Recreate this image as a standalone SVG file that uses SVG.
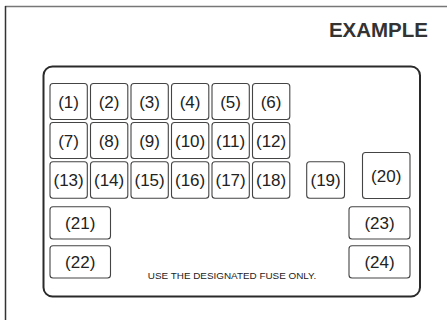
<svg xmlns="http://www.w3.org/2000/svg" width="447" height="320" viewBox="0 0 447 320">
<style>
.fuse rect{fill:#fff;stroke:#444;stroke-width:1.1}
.fuse text{font-family:"Liberation Sans",Arial,sans-serif;font-size:17px;fill:#222;text-anchor:middle}
.title{font-family:"Liberation Sans",Arial,sans-serif;font-size:20.5px;font-weight:bold;fill:#333;text-anchor:end}
.note{font-family:"Liberation Sans",Arial,sans-serif;font-size:9.9px;fill:#222;text-anchor:middle}
</style>
<rect width="447" height="320" fill="#fff"/>
<g id="frame">
<line x1="5" y1="6.5" x2="447" y2="6.5" stroke="#777" stroke-width="1.5"/>
<line x1="5.5" y1="6" x2="5.5" y2="320" stroke="#333" stroke-width="1.5"/>
</g>
<text class="title" x="428" y="36.5">EXAMPLE</text>
<g id="box">
<rect x="43.5" y="66.5" width="376.5" height="230" rx="9" fill="#fff" stroke="#2a2a2a" stroke-width="2"/>
</g>
<g id="f1" class="fuse"><rect x="50" y="83.5" width="37.3" height="36" rx="3"/><text x="68.6" y="107.5">(1)</text></g>
<g id="f2" class="fuse"><rect x="90.5" y="83.5" width="37.3" height="36" rx="3"/><text x="109.1" y="107.5">(2)</text></g>
<g id="f3" class="fuse"><rect x="131" y="83.5" width="37.3" height="36" rx="3"/><text x="149.6" y="107.5">(3)</text></g>
<g id="f4" class="fuse"><rect x="171.5" y="83.5" width="37.3" height="36" rx="3"/><text x="190.1" y="107.5">(4)</text></g>
<g id="f5" class="fuse"><rect x="212" y="83.5" width="37.3" height="36" rx="3"/><text x="230.6" y="107.5">(5)</text></g>
<g id="f6" class="fuse"><rect x="252.5" y="83.5" width="37.3" height="36" rx="3"/><text x="271.1" y="107.5">(6)</text></g>
<g id="f7" class="fuse"><rect x="50" y="122.5" width="37.3" height="36" rx="3"/><text x="68.6" y="146.5">(7)</text></g>
<g id="f8" class="fuse"><rect x="90.5" y="122.5" width="37.3" height="36" rx="3"/><text x="109.1" y="146.5">(8)</text></g>
<g id="f9" class="fuse"><rect x="131" y="122.5" width="37.3" height="36" rx="3"/><text x="149.6" y="146.5">(9)</text></g>
<g id="f10" class="fuse"><rect x="171.5" y="122.5" width="37.3" height="36" rx="3"/><text x="190.1" y="146.5">(10)</text></g>
<g id="f11" class="fuse"><rect x="212" y="122.5" width="37.3" height="36" rx="3"/><text x="230.6" y="146.5">(11)</text></g>
<g id="f12" class="fuse"><rect x="252.5" y="122.5" width="37.3" height="36" rx="3"/><text x="271.1" y="146.5">(12)</text></g>
<g id="f13" class="fuse"><rect x="50" y="161.8" width="37.3" height="36.5" rx="3"/><text x="68.6" y="186">(13)</text></g>
<g id="f14" class="fuse"><rect x="90.5" y="161.8" width="37.3" height="36.5" rx="3"/><text x="109.1" y="186">(14)</text></g>
<g id="f15" class="fuse"><rect x="131" y="161.8" width="37.3" height="36.5" rx="3"/><text x="149.6" y="186">(15)</text></g>
<g id="f16" class="fuse"><rect x="171.5" y="161.8" width="37.3" height="36.5" rx="3"/><text x="190.1" y="186">(16)</text></g>
<g id="f17" class="fuse"><rect x="212" y="161.8" width="37.3" height="36.5" rx="3"/><text x="230.6" y="186">(17)</text></g>
<g id="f18" class="fuse"><rect x="252.5" y="161.8" width="37.3" height="36.5" rx="3"/><text x="271.1" y="186">(18)</text></g>
<g id="f19" class="fuse"><rect x="306.7" y="161.8" width="37.8" height="36.5" rx="3"/><text x="325.6" y="186">(19)</text></g>
<g id="f20" class="fuse"><rect x="362.5" y="152.5" width="47.5" height="46" rx="3"/><text x="386.2" y="181.5">(20)</text></g>
<g id="f21" class="fuse"><rect x="50" y="206.7" width="60.5" height="32.3" rx="3"/><text x="80.2" y="228.5">(21)</text></g>
<g id="f22" class="fuse"><rect x="50" y="245.7" width="60.5" height="32.3" rx="3"/><text x="80.2" y="267.5">(22)</text></g>
<g id="f23" class="fuse"><rect x="349" y="206.7" width="61" height="32.3" rx="3"/><text x="379.5" y="228.5">(23)</text></g>
<g id="f24" class="fuse"><rect x="349" y="245.7" width="61" height="32.3" rx="3"/><text x="379.5" y="267.5">(24)</text></g>
<g id="connectors"/>
<text class="note" x="232" y="279">USE THE DESIGNATED FUSE ONLY.</text>
</svg>
